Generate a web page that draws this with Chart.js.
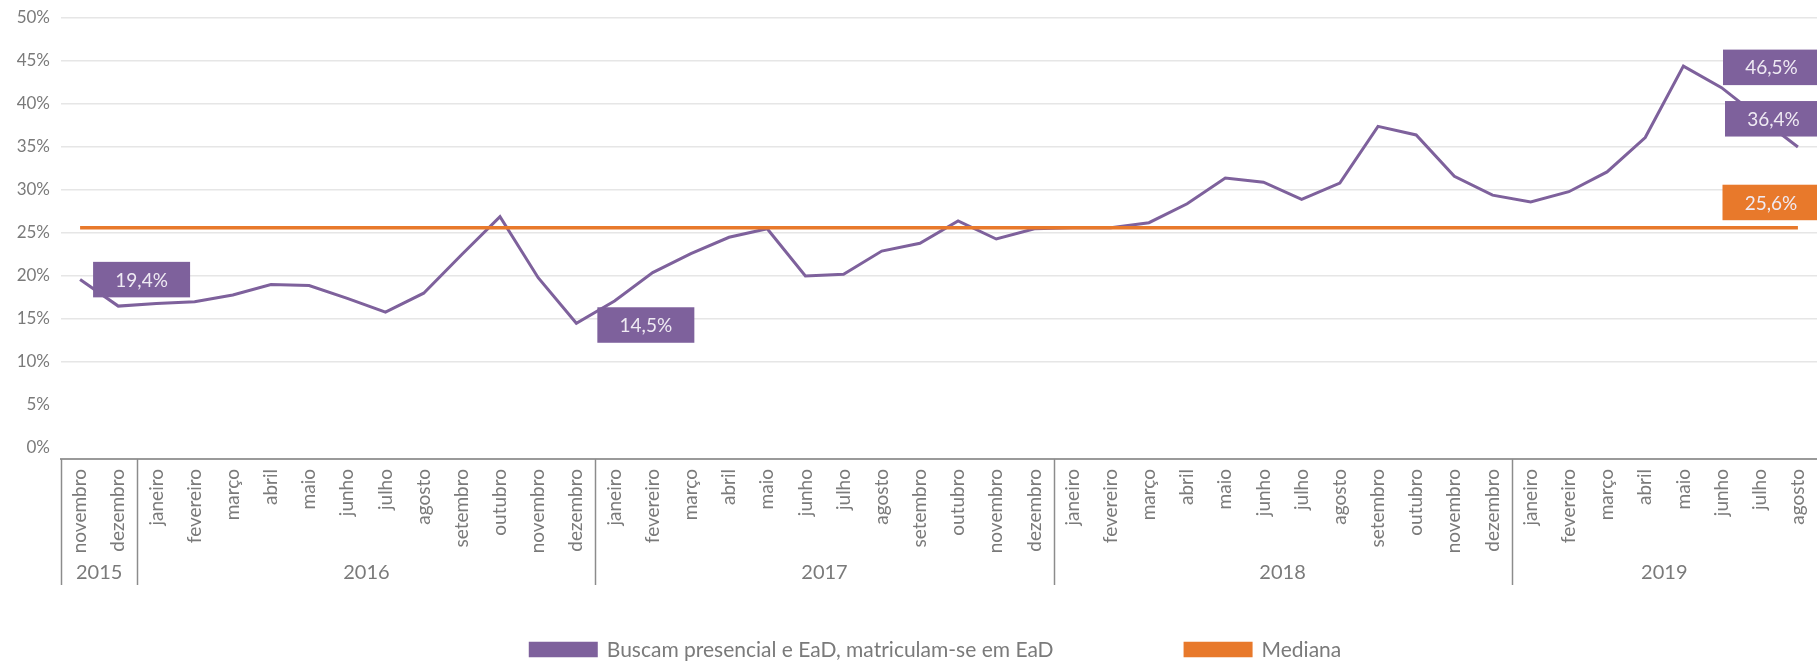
<!DOCTYPE html>
<html><head><meta charset="utf-8">
<script src="https://cdn.jsdelivr.net/npm/chart.js@4.4.1/dist/chart.umd.min.js"></script>
<style>html,body{margin:0;padding:0;background:#fff}#wrap{width:1817px;height:663px;position:relative;overflow:hidden}</style>
</head><body><div id="wrap"><canvas id="c" width="1817" height="663"></canvas></div>
<script>
const months = ['novembro','dezembro',
  'janeiro','fevereiro','março','abril','maio','junho','julho','agosto','setembro','outubro','novembro','dezembro',
  'janeiro','fevereiro','março','abril','maio','junho','julho','agosto','setembro','outubro','novembro','dezembro',
  'janeiro','fevereiro','março','abril','maio','junho','julho','agosto','setembro','outubro','novembro','dezembro',
  'janeiro','fevereiro','março','abril','maio','junho','julho','agosto'];
const yearLabels = ['2015','2016','2017','2018','2019'];
const yearCounts = [2,12,12,12,8];
const seriesName = 'Buscam presencial e EaD, matriculam-se em EaD';
const seriesValues = [19.6,16.5,
  16.8,17.0,17.8,19.0,18.9,17.4,15.8,18.0,22.5,26.9,19.8,14.5,
  17.1,20.4,22.6,24.5,25.5,20.0,20.2,22.9,23.8,26.4,24.3,25.5,
  25.6,25.6,26.2,28.4,31.4,30.9,28.9,30.8,37.4,36.4,31.6,29.4,
  28.6,29.8,32.1,36.1,44.4,41.9,38.4,35.0];
const medianName = 'Mediana';
const medianValue = 25.6;
const yTicks = [0,5,10,15,20,25,30,35,40,45,50];
const calloutTexts = ['19,4%','14,5%','46,5%','36,4%','25,6%'];

const PURPLE = '#7e619c', ORANGE = '#e8792b', GREY = '#7a7a7a';
const FONT = 'Lato';

// callout placement: anchored to category index (or right edge) and a y value
const calloutPlacement = [
  {idx:0, dx:13, y:19.58, color:PURPLE},
  {idx:13, dx:21, y:14.3, color:PURPLE},
  {right:true, dx:-94, y:44.26, color:PURPLE},
  {right:true, dx:-92, y:38.28, color:PURPLE},
  {right:true, dx:-94.5, y:28.55, color:ORANGE}
];

const extras = {
  id:'extras',
  afterDatasetsDraw(chart){
    const {ctx, chartArea, scales:{x,y}} = chart;
    ctx.save();
    calloutPlacement.forEach((p,i)=>{
      const left = p.right ? chartArea.right + p.dx : x.getPixelForValue(p.idx) + p.dx;
      const cy = y.getPixelForValue(p.y);
      const w = 97, h = 35.5;
      ctx.fillStyle = p.color;
      ctx.fillRect(left, cy - h/2, w, h);
      ctx.fillStyle = '#efeaf3';
      ctx.font = '19px ' + FONT;
      ctx.textAlign = 'center';
      ctx.textBaseline = 'middle';
      ctx.fillText(calloutTexts[i], left + w/2, cy + 1);
    });
    ctx.restore();
  },
  afterDraw(chart){
    const {ctx, chartArea, scales:{x}} = chart;
    const half = (x.getPixelForValue(1) - x.getPixelForValue(0))/2;
    const top = chartArea.bottom;
    ctx.save();
    // year separators and labels
    let start = 0;
    ctx.strokeStyle = '#8c8c8c';
    ctx.lineWidth = 1.5;
    ctx.fillStyle = GREY;
    ctx.font = '20px ' + FONT;
    ctx.textAlign = 'center';
    ctx.textBaseline = 'middle';
    yearCounts.forEach((n,k)=>{
      const x0 = x.getPixelForValue(start) - half;
      const x1 = x.getPixelForValue(start + n - 1) + half;
      ctx.beginPath();
      ctx.moveTo(Math.round(x0)+0.5, top);
      ctx.lineTo(Math.round(x0)+0.5, top + 126);
      ctx.stroke();
      ctx.fillText(yearLabels[k], (x0 + x1)/2, top + 114);
      start += n;
    });
    // legend
    const items = chart.data.datasets.map(d=>({text:d.label, color:d.borderColor}));
    ctx.font = '21px ' + FONT;
    const boxW = 69, boxH = 15.5, gap = 9, itemGap = 130;
    const widths = items.map(it => boxW + gap + ctx.measureText(it.text).width);
    const total = widths.reduce((a,b)=>a+b,0) + itemGap*(items.length-1);
    let lx = 935 - total/2;
    const ly = 649.5;
    ctx.textAlign = 'left';
    items.forEach((it,k)=>{
      ctx.fillStyle = it.color;
      ctx.fillRect(lx, ly - boxH/2, boxW, boxH);
      ctx.fillStyle = GREY;
      ctx.fillText(it.text, lx + boxW + gap, ly + 1);
      lx += widths[k] + itemGap;
    });
    ctx.restore();
  }
};

new Chart(document.getElementById('c'), {
  type:'line',
  data:{
    labels: months,
    datasets:[
      {label: seriesName, data: seriesValues, borderColor: PURPLE, backgroundColor: PURPLE,
       borderWidth: 3, pointRadius: 0, tension: 0, order: 2},
      {label: medianName, data: months.map(()=>medianValue), borderColor: ORANGE, backgroundColor: ORANGE,
       borderWidth: 3.5, pointRadius: 0, tension: 0, order: 1}
    ]
  },
  options:{
    responsive:false,
    animation:false,
    devicePixelRatio:1,
    layout:{padding:{top:18, left:0, right:-3, bottom:0}},
    plugins:{legend:{display:false}, tooltip:{enabled:false}},
    scales:{
      x:{
        type:'category', offset:true,
        afterFit(s){ s.height = 204; s.paddingLeft = 0; s.paddingRight = 0; },
        border:{display:true, color:'#9a9a9a', width:2},
        grid:{display:false, drawTicks:false},
        ticks:{autoSkip:false, minRotation:90, maxRotation:90, padding:10, color:GREY,
               font:{family:FONT, size:19}}
      },
      y:{
        min:-1.28, max:50,
        afterBuildTicks(s){ s.ticks = yTicks.map(v=>({value:v})); },
        afterFit(s){ s.width = 61; s.paddingTop = 0; s.paddingBottom = 0; },
        border:{display:false},
        grid:{drawTicks:false, lineWidth:1.6,
              color: c => (c.tick && c.tick.value >= 10) ? '#e6e6e6' : 'rgba(0,0,0,0)'},
        ticks:{padding:11, color:GREY, font:{family:FONT, size:17}, callback: v => v + '%'}
      }
    }
  },
  plugins:[extras]
});
</script>
</body></html>
